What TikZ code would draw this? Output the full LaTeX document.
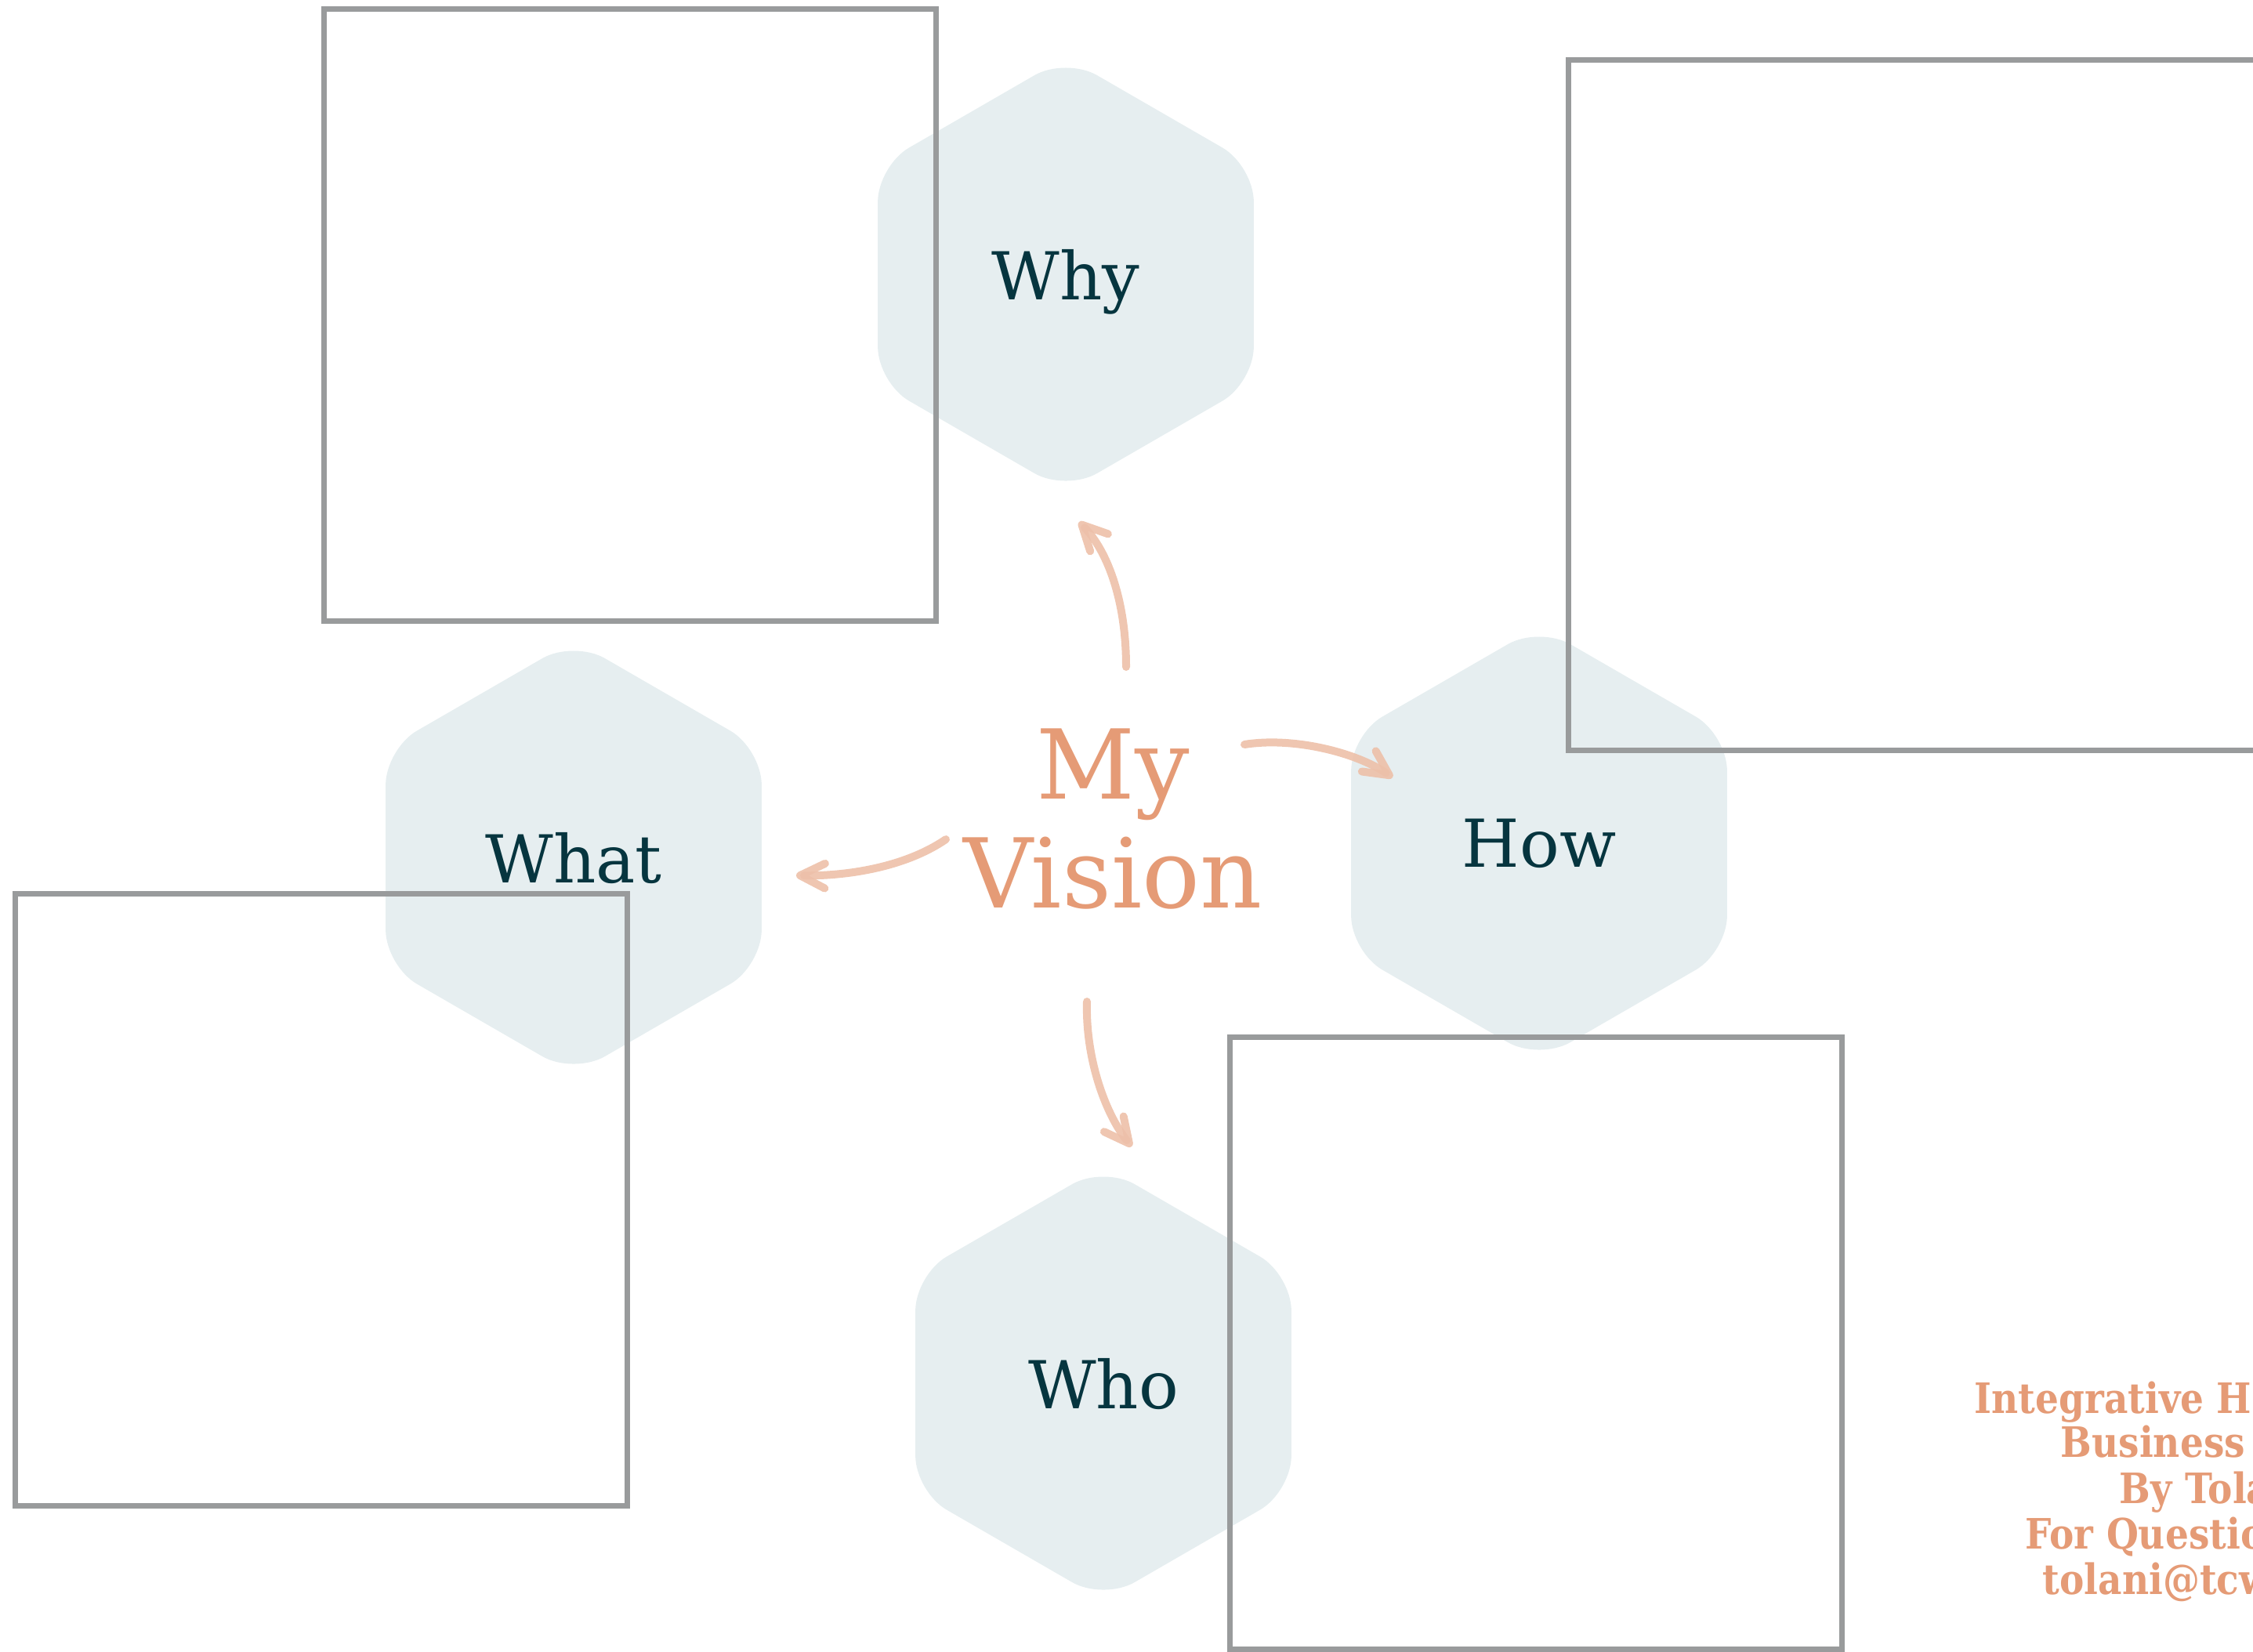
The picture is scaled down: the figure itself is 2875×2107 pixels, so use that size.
\documentclass[tikz,border=0pt]{standalone}
\usepackage{fontspec}
\setmainfont{DejaVu Serif}
\newfontfamily\creditfont[FakeStretch=0.88]{DejaVu Serif Bold}
\usetikzlibrary{shapes.geometric,arrows.meta}

\definecolor{hexfill}{HTML}{E6EEF0}
\definecolor{inkteal}{HTML}{06353F}
\definecolor{salmon}{HTML}{E59B76}
\definecolor{arrowpink}{HTML}{EDC0A9}
\definecolor{boxgray}{HTML}{999B9C}

\tikzset{
  hexnode/.style={regular polygon, regular polygon sides=6, shape border rotate=30,
    minimum size=55.4mm, inner sep=0pt, rounded corners=4.6mm, fill=hexfill,
    text=inkteal, text depth=0pt, font=\fontsize{24pt}{28pt}\selectfont},
  notebox/.style={draw=boxgray, line width=0.7mm, rectangle, inner sep=0pt},
  sketcharrow/.style={draw=arrowpink, draw opacity=0.9, line width=1mm, line cap=round,
    line join=round, -{Straight Barb[length=9pt,width=9pt,round]}},
  creditline/.style={anchor=base west, inner sep=0pt, text=salmon,
    font=\creditfont\fontsize{15.2pt}{16.5pt}\selectfont}
}

\begin{document}
\begin{tikzpicture}[x=0.1mm, y=-0.1mm]
	\useasboundingbox (0,0) rectangle (2875,2107);
	\clip (0,0) rectangle (2875,2107);
	% hexagons
	\node [hexnode] (why) at (1360,350) {Why};
	\node [hexnode] (what) at (732,1094) {What};
	\node [hexnode] (how) at (1964,1076) {How};
	\node [hexnode] (who) at (1408,1765) {Who};
	% boxes
	\node [notebox, minimum width=78.1mm, minimum height=78.1mm] (whybox) at (804,402) {};
	\node [notebox, minimum width=88.1mm, minimum height=88.1mm] (howbox) at (2442,517) {};
	\node [notebox, minimum width=78.1mm, minimum height=78.1mm] (whatbox) at (410,1531) {};
	\node [notebox, minimum width=78.1mm, minimum height=78.1mm] (whobox) at (1960,1714) {};
	% centre
	\node [align=center, inner sep=0pt, text=salmon, font=\fontsize{35pt}{39.3pt}\selectfont]
		(vision) at (1420,1045) {My\\Vision};
	\coordinate (whyTail) at (1437,851);
	\coordinate (whyTip) at (1377,666);
	\coordinate (howTail) at (1588,950);
	\coordinate (howTip) at (1777,992);
	\coordinate (whatTail) at (1207,1071);
	\coordinate (whatTip) at (1016,1117);
	\coordinate (whoTail) at (1387,1278);
	\coordinate (whoTip) at (1444,1463);
	\draw [sketcharrow] (whyTail) .. controls (1437,760) and (1410,700) .. (whyTip);
	\draw [sketcharrow] (howTail) .. controls (1650,940) and (1730,960) .. (howTip);
	\draw [sketcharrow] (whatTail) .. controls (1150,1110) and (1070,1118) .. (whatTip);
	\draw [sketcharrow] (whoTail) .. controls (1385,1350) and (1410,1420) .. (whoTip);
	% credits
	\foreach \x/\y/\t [count=\i] in {2519/1803/Integrative H, 2629/1859/Business,
		2704/1918/By Tola, 2584/1976/For Questio, 2606/2034/tolani@tcw}
		\node [creditline] (credit\i) at (\x,\y) {\t};
\end{tikzpicture}
\end{document}
